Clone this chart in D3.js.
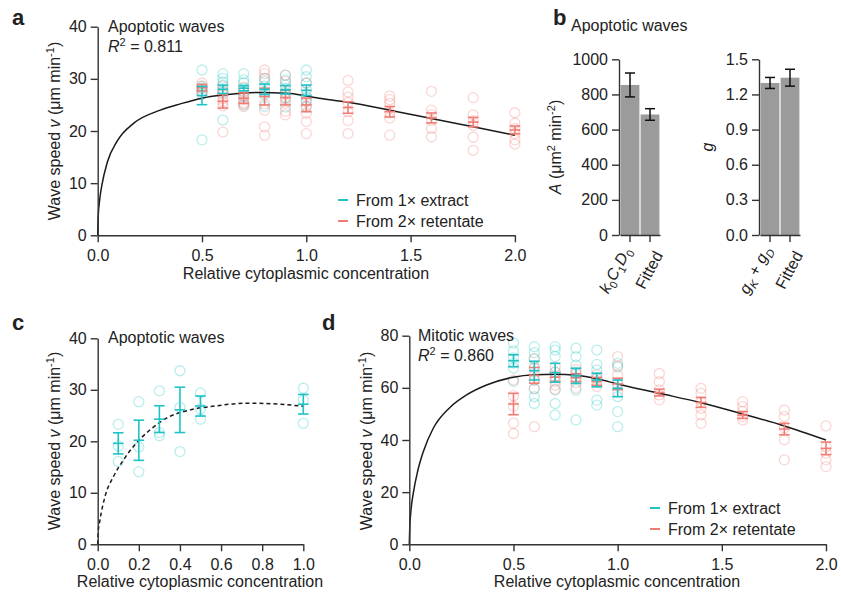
<!DOCTYPE html>
<html>
<head>
<meta charset="utf-8">
<script src="https://cdn.jsdelivr.net/npm/d3@7"></script>
<style>
  body { margin: 0; background: #fff; }
  svg text { font-family: "Liberation Sans", Arial, sans-serif; fill: #222; }
</style>
</head>
<body>
<svg id="chart" width="841" height="597"></svg>
<script>
//////////////////////////////////////////////////////////////////
////  Data

// panel a - apoptotic waves
var aExtractX = [0.5, 0.6, 0.7, 0.8, 0.9, 1.0];
var aExtractPts = [
  [31.7, 28.6, 28.2, 27.6, 27.1, 18.3],
  [31.0, 30.1, 29.4, 28.8, 27.9, 27.4, 22.1],
  [31.0, 29.8, 29.2, 28.2, 27.6, 26.6, 25.0],
  [30.1, 29.5, 28.6, 27.4, 26.9, 24.7],
  [30.7, 29.8, 28.8, 28.2, 27.2, 26.4, 24.6],
  [31.7, 30.4, 29.2, 28.0, 26.5, 25.8, 24.6]
];
var aExtractMean = [26.8, 28.0, 28.2, 28.0, 27.9, 27.8];
var aExtractErr = [1.75, 0.8, 0.5, 1.0, 0.8, 1.0];

var aRetX = [0.5, 0.6, 0.7, 0.8, 0.9, 1.0, 1.2, 1.4, 1.6, 1.8, 2.0];
var aRetPts = [
  [29.2, 28.6, 28.2, 27.7, 27.5],
  [28.6, 27.6, 27.0, 26.2, 25.6, 24.8, 19.8],
  [28.4, 27.4, 26.8, 26.0, 25.4, 24.7, 25.2],
  [31.7, 31.0, 30.1, 27.5, 25.2, 24.0, 20.8, 19.2],
  [29.5, 30.7, 27.5, 26.2, 25.3, 23.8, 23.1],
  [29.2, 27.0, 25.6, 24.8, 23.4, 21.8, 19.5],
  [29.7, 27.5, 26.5, 25.5, 23.7, 22.0, 19.5],
  [26.7, 26.0, 25.3, 23.5, 22.5, 19.2],
  [27.6, 24.0, 23.1, 22.0, 20.5, 18.9],
  [26.4, 23.1, 22.0, 21.1, 18.8, 16.3],
  [23.5, 21.5, 20.5, 19.5, 18.3, 17.5]
];
var aRetMean = [28.3, 25.7, 26.3, 26.6, 26.4, 25.0, 24.5, 23.7, 22.5, 21.7, 20.2];
var aRetErr = [0.6, 1.3, 1.0, 1.6, 1.4, 1.3, 1.1, 1.0, 0.95, 0.9, 0.75];

var aFitX = [0, 0.002, 0.01, 0.02, 0.046, 0.094, 0.173, 0.3, 0.396, 0.5, 0.6, 0.76, 0.92, 1.06, 1.2, 1.4, 1.6, 1.8, 2.0];
var aFitV = [0, 3.4, 7.0, 9.6, 14.0, 18.1, 21.5, 24.0, 25.2, 26.3, 26.9, 27.4, 27.2, 26.3, 25.5, 24.0, 22.4, 20.8, 19.2];

// panel b - parameter comparison
var bLeftCats = ["kCD", "Fitted"];
var bLeftVals = [854, 686];
var bLeftErr = [68, 33];
var bRightCats = ["gg", "Fitted"];
var bRightVals = [1.298, 1.343];
var bRightErr = [0.047, 0.072];

// panel c - apoptotic waves, diluted extract
var cX = [0.1, 0.2, 0.3, 0.4, 0.5, 1.0];
var cPts = [
  [23.3, 19.1, 16.1],
  [27.7, 18.9, 14.1],
  [29.8, 21.7, 21.1],
  [33.7, 26.6, 18.0],
  [29.4, 26.3, 24.3],
  [30.3, 28.0, 23.5]
];
var cMean = [19.6, 20.2, 24.3, 26.1, 26.85, 27.2];
var cErr = [2.05, 3.9, 2.6, 4.4, 1.95, 1.9];
var cFitX = [0, 0.002, 0.011, 0.035, 0.076, 0.124, 0.18, 0.254, 0.335, 0.449, 0.56, 0.725, 0.886, 1.0];
var cFitV = [0, 2.2, 4.7, 9.2, 13.1, 16.3, 19.3, 22.2, 24.5, 26.1, 26.8, 27.4, 27.2, 26.8];

// panel d - mitotic waves
var dExtractX = [0.5, 0.6, 0.7, 0.8, 0.9, 1.0];
var dExtractPts = [
  [77.2, 74.2, 71.5, 69.5, 67.6, 62.5],
  [75.8, 73.5, 71.3, 68.2, 63.0, 59.6, 56.6, 54.0],
  [75.8, 74.5, 72.0, 66.2, 64.0, 59.2, 54.0, 49.6],
  [75.2, 72.0, 68.7, 66.0, 63.5, 59.2, 47.7],
  [74.5, 69.0, 66.8, 64.0, 55.3, 53.4],
  [69.4, 68.0, 61.5, 56.6, 50.9, 45.1]
];
var dExtractMean = [70.4, 66.6, 65.8, 64.6, 63.0, 59.8];
var dExtractErr = [2.3, 3.6, 3.6, 2.9, 2.6, 3.2];

var dRetX = [0.5, 0.6, 0.7, 0.8, 0.9, 1.0, 1.2, 1.4, 1.6, 1.8, 2.0];
var dRetPts = [
  [63.0, 57.0, 53.0, 46.5, 42.5],
  [71.0, 67.5, 65.0, 63.0, 59.8, 45.1],
  [68.0, 66.0, 64.5, 62.5, 61.0, 59.5],
  [67.0, 65.5, 64.0, 62.0, 60.0],
  [65.0, 63.5, 62.0, 60.5],
  [72.0, 68.5, 65.0, 61.7, 58.5],
  [65.5, 62.4, 59.2, 57.3, 55.4],
  [59.8, 57.9, 54.7, 52.2, 49.6, 46.4],
  [54.7, 52.8, 50.9, 49.0, 47.7],
  [51.5, 49.0, 44.6, 40.1, 32.4],
  [45.4, 37.4, 35.0, 32.4, 29.8]
];
var dRetMean = [53.8, 64.8, 64.1, 63.9, 62.5, 61.5, 58.2, 54.4, 49.6, 44.2, 36.8];
var dRetErr = [4.1, 3.0, 1.7, 1.5, 1.5, 2.2, 1.3, 1.9, 1.3, 2.2, 2.4];

var dFitX = [0, 0.002, 0.008, 0.02, 0.04, 0.067, 0.115, 0.195, 0.275, 0.371, 0.5, 0.6, 0.7, 0.8, 0.9, 1.0, 1.2, 1.4, 1.6, 1.8, 2.0];
var dFitV = [0, 6, 13, 20, 28, 35.5, 44.5, 52.5, 57.3, 61.1, 64.1, 65.0, 65.2, 64.8, 63.5, 61.5, 57.9, 54.3, 50.0, 45.4, 40.0];

var legendLabels = ["From 1\u00d7 extract", "From 2\u00d7 retentate"];

//////////////////////////////////////////////////////////////////
////  Styles

var cyan = "#1fc3c6";
var red = "#f07c74";
var axisColor = "#333";
var fontSize = 16;
var barLabelShift = [-15, -1];   // rotated label centres relative to tick

var svg = d3.select("#chart");

// rich text: parts = [{t, i (italic), sup, sub}]
function richText(sel, parts) {
  var shift = 0;
  parts.forEach(function(p) {
    var ts = sel.append("tspan").text(p.t);
    var target = p.sup ? -6 : (p.sub ? 4 : 0);
    if (target !== shift) { ts.attr("dy", target - shift); shift = target; }
    if (p.i) ts.attr("font-style", "italic");
    if (p.sup || p.sub) ts.attr("font-size", 11);
  });
  return sel;
}

function styleAxis(g) {
  g.attr("font-size", fontSize).attr("font-family", '"Liberation Sans", Arial, sans-serif');
  g.select(".domain").attr("stroke", axisColor).attr("stroke-width", 1.4);
  g.selectAll(".tick line").attr("stroke", axisColor).attr("stroke-width", 1.4);
  g.selectAll(".tick text").attr("fill", "#222");
}

function drawAxes(x, y, xTicks, yTicks, xFmt, yFmt) {
  var gx = svg.append("g")
    .attr("transform", "translate(0," + y.range()[0] + ")")
    .call(d3.axisBottom(x).tickValues(xTicks).tickFormat(d3.format(xFmt)).tickSize(7).tickPadding(7).tickSizeOuter(0));
  styleAxis(gx);
  var gy = svg.append("g")
    .attr("transform", "translate(" + x.range()[0] + ",0)")
    .call(d3.axisLeft(y).tickValues(yTicks).tickFormat(d3.format(yFmt)).tickSize(7).tickPadding(4).tickSizeOuter(0));
  styleAxis(gy);
}

function drawPoints(x, y, xs, pts, color) {
  var flat = [];
  xs.forEach(function(c, i) { pts[i].forEach(function(v) { flat.push([c, v]); }); });
  svg.append("g").selectAll("circle")
    .data(flat)
    .enter()
    .append("circle")
      .attr("cx", function(d) { return x(d[0]); })
      .attr("cy", function(d) { return y(d[1]); })
      .attr("r", 5)
      .attr("fill", "none")
      .attr("stroke", color)
      .attr("stroke-opacity", 0.3)
      .attr("stroke-width", 1.3);
}

function drawErrorBars(x, y, xs, mean, err, color, cap) {
  var g = svg.append("g").attr("stroke", color).attr("stroke-width", 1.6);
  xs.forEach(function(c, i) {
    var cx = x(c), lo = y(mean[i] - err[i]), hi = y(mean[i] + err[i]), m = y(mean[i]);
    g.append("line").attr("x1", cx).attr("x2", cx).attr("y1", lo).attr("y2", hi);
    [lo, hi, m].forEach(function(yy) {
      g.append("line").attr("x1", cx - cap).attr("x2", cx + cap).attr("y1", yy).attr("y2", yy);
    });
  });
}

function drawFit(x, y, xs, vs, dashed) {
  var line = d3.line()
    .curve(d3.curveMonotoneX)
    .x(function(d) { return x(d[0]); })
    .y(function(d) { return y(d[1]); });
  svg.append("path")
    .datum(xs.map(function(c, i) { return [c, vs[i]]; }))
    .attr("fill", "none")
    .attr("stroke", "#1a1a1a")
    .attr("stroke-width", 1.5)
    .attr("stroke-dasharray", dashed ? "4,3" : null)
    .attr("d", line);
}

function yLabel(px, py, parts) {
  var t = svg.append("text")
    .attr("transform", "translate(" + px + "," + py + ") rotate(-90)")
    .attr("text-anchor", "middle")
    .attr("font-size", fontSize);
  richText(t, parts);
}

function plainText(px, py, str, opts) {
  opts = opts || {};
  return svg.append("text")
    .attr("x", px).attr("y", py)
    .attr("font-size", opts.size || fontSize)
    .attr("font-weight", opts.bold ? "bold" : null)
    .attr("text-anchor", opts.anchor || "start")
    .text(str);
}

function legend(px, py) {
  [cyan, red].forEach(function(col, i) {
    var yy = py + i * 21;
    svg.append("line").attr("x1", px).attr("x2", px + 10).attr("y1", yy).attr("y2", yy)
      .attr("stroke", col).attr("stroke-width", 2);
    svg.append("text").attr("x", px + 18).attr("y", yy).attr("dy", "0.35em")
      .attr("font-size", fontSize).text(legendLabels[i]);
  });
}

var speedLabel = [{t: "Wave speed "}, {t: "v", i: true}, {t: " (\u03bcm min"}, {t: "-1", sup: true}, {t: ")"}];
var concLabel = "Relative cytoplasmic concentration";

//////////////////////////////////////////////////////////////////
////  Panel a

var xa = d3.scaleLinear().domain([0, 2]).range([97.7, 514.9]);
var ya = d3.scaleLinear().domain([0, 40]).range([235.3, 26.7]);
drawPoints(xa, ya, aExtractX, aExtractPts, cyan);
drawPoints(xa, ya, aRetX, aRetPts, red);
drawFit(xa, ya, aFitX, aFitV, false);
drawErrorBars(xa, ya, aRetX, aRetMean, aRetErr, red, 5.3);
drawErrorBars(xa, ya, aExtractX, aExtractMean, aExtractErr, cyan, 5.3);
drawAxes(xa, ya, [0, 0.5, 1, 1.5, 2], [0, 10, 20, 30, 40], ".1f", "d");
yLabel(60, 131, speedLabel);
plainText(306, 279, concLabel, {anchor: "middle"});
plainText(12, 25, "a", {bold: true, size: 22});
plainText(108, 32, "Apoptotic waves");
richText(svg.append("text").attr("x", 108).attr("y", 52).attr("font-size", fontSize),
  [{t: "R", i: true}, {t: "2", sup: true}, {t: " = 0.811"}]);
legend(338, 200);

//////////////////////////////////////////////////////////////////
////  Panel b

function barPanel(x, y, cats, vals, errs, yTicks, yFmt, tickParts) {
  svg.append("g").selectAll("rect")
    .data(cats)
    .enter()
    .append("rect")
      .attr("x", function(d) { return x(d); })
      .attr("width", x.bandwidth())
      .attr("y", function(d, i) { return y(vals[i]); })
      .attr("height", function(d, i) { return y(0) - y(vals[i]); })
      .attr("fill", "#9b9b9b");
  var g = svg.append("g").attr("stroke", "#111").attr("stroke-width", 1.5);
  cats.forEach(function(c, i) {
    var cx = x(c) + x.bandwidth() / 2;
    var lo = y(vals[i] - errs[i]), hi = y(vals[i] + errs[i]);
    g.append("line").attr("x1", cx).attr("x2", cx).attr("y1", lo).attr("y2", hi);
    [lo, hi].forEach(function(yy) {
      g.append("line").attr("x1", cx - 5).attr("x2", cx + 5).attr("y1", yy).attr("y2", yy);
    });
  });
  var gx = svg.append("g")
    .attr("transform", "translate(0," + y.range()[0] + ")")
    .call(d3.axisBottom(x).tickSize(7).tickSizeOuter(0).tickFormat(""));
  styleAxis(gx);
  cats.forEach(function(c, i) {
    var cx = x(c) + x.bandwidth() / 2;
    var t = svg.append("text")
      .attr("transform", "translate(" + (cx + barLabelShift[i]) + "," + (y.range()[0] + 35) + ") rotate(-62)")
      .attr("text-anchor", "middle")
      .attr("dy", "0.35em")
      .attr("font-size", fontSize);
    richText(t, tickParts[i]);
  });
  var gy = svg.append("g")
    .attr("transform", "translate(" + (x.range()[0] - 1) + ",0)")
    .call(d3.axisLeft(y).tickValues(yTicks).tickFormat(d3.format(yFmt)).tickSize(7).tickPadding(4).tickSizeOuter(0));
  styleAxis(gy);
}

var xbL = d3.scaleBand().domain(bLeftCats).range([620, 660]).paddingInner(0.06).paddingOuter(0.03);
var ybL = d3.scaleLinear().domain([0, 1000]).range([235, 59.3]);
barPanel(xbL, ybL, bLeftCats, bLeftVals, bLeftErr, [0, 200, 400, 600, 800, 1000], "d", [
  [{t: "k", i: true}, {t: "0", sub: true}, {t: "C", i: true}, {t: "1", sub: true}, {t: "D", i: true}, {t: "0", sub: true}],
  [{t: "Fitted"}]
]);

var xbR = d3.scaleBand().domain(bRightCats).range([760, 800]).paddingInner(0.06).paddingOuter(0.03);
var ybR = d3.scaleLinear().domain([0, 1.5]).range([235, 59.3]);
barPanel(xbR, ybR, bRightCats, bRightVals, bRightErr, [0, 0.3, 0.6, 0.9, 1.2, 1.5], ".1f", [
  [{t: "g", i: true}, {t: "K", sub: true, i: true}, {t: " + "}, {t: "g", i: true}, {t: "D", sub: true, i: true}],
  [{t: "Fitted"}]
]);

yLabel(561, 147, [{t: "A", i: true}, {t: " (\u03bcm"}, {t: "2", sup: true}, {t: " min"}, {t: "-2", sup: true}, {t: ")"}]);
yLabel(713, 147, [{t: "g", i: true}]);
plainText(553, 25, "b", {bold: true, size: 22});
plainText(571, 31, "Apoptotic waves");

//////////////////////////////////////////////////////////////////
////  Panel c

var xc = d3.scaleLinear().domain([0, 1]).range([97.7, 303.3]);
var yc = d3.scaleLinear().domain([0, 40]).range([544.3, 338.3]);
drawPoints(xc, yc, cX, cPts, cyan);
drawFit(xc, yc, cFitX, cFitV, true);
drawErrorBars(xc, yc, cX, cMean, cErr, cyan, 5.3);
drawAxes(xc, yc, [0, 0.2, 0.4, 0.6, 0.8, 1.0], [0, 10, 20, 30, 40], ".1f", "d");
yLabel(60, 441, speedLabel);
plainText(200, 587, concLabel, {anchor: "middle"});
plainText(12, 330, "c", {bold: true, size: 22});
plainText(108, 343, "Apoptotic waves");

//////////////////////////////////////////////////////////////////
////  Panel d

var xd = d3.scaleLinear().domain([0, 2]).range([409.3, 826]);
var yd = d3.scaleLinear().domain([0, 80]).range([544.3, 335.7]);
drawPoints(xd, yd, dExtractX, dExtractPts, cyan);
drawPoints(xd, yd, dRetX, dRetPts, red);
drawFit(xd, yd, dFitX, dFitV, false);
drawErrorBars(xd, yd, dRetX, dRetMean, dRetErr, red, 5.3);
drawErrorBars(xd, yd, dExtractX, dExtractMean, dExtractErr, cyan, 5.3);
drawAxes(xd, yd, [0, 0.5, 1, 1.5, 2], [0, 20, 40, 60, 80], ".1f", "d");
yLabel(372, 441, speedLabel);
plainText(617, 587, concLabel, {anchor: "middle"});
plainText(322, 330, "d", {bold: true, size: 22});
plainText(418, 341, "Mitotic waves");
richText(svg.append("text").attr("x", 418).attr("y", 361).attr("font-size", fontSize),
  [{t: "R", i: true}, {t: "2", sup: true}, {t: " = 0.860"}]);
legend(650, 508);
</script>
</body>
</html>
